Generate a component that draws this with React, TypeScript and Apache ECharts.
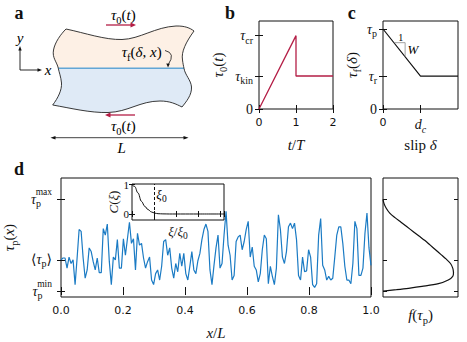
import React, { useEffect, useRef } from 'react';
import * as echarts from 'echarts';

const SERIF = '"Liberation Serif", "DejaVu Serif", serif';
const SANS = '"DejaVu Sans", Verdana, sans-serif';
const RED = '#b41e46';
const BLUE = '#1b7bc4';
const INK = '#111';

// ---- panel b: loading protocol tau0(t)
const loadTime = [0, 1, 1, 2];
const loadStress = [0, 1, 0.45, 0.45];
const bTicks = [0, 0.45, 1];

// ---- panel c: slip-weakening friction law
const slipValues = [0, 1, 2];
const frictionValues = [1, 0.41, 0.41];
const cTicks = [0, 0.41, 1];
const slopeX = [0.29, 0.59, 0.59];
const slopeY = [0.829, 0.829, 0.652];

// ---- panel d: random peak strength (tau_min = 0, tau_max = 100)
const dTicks = [0, 34, 100];
const tauP = [
  34, 36, 36, 25, 37, 30, 34, 7, 36, 67,
  65, 36, 14, 23, 47, 43, 32, 23, 36, 20,
  20, 68, 61, 73, 32, 7, 37, 34, 56, 25,
  25, 57, 39, 57, 75, 52, 57, 23, 63, 50,
  52, 36, 25, 32, 37, 12, 7, 19, 23, 12,
  27, 54, 56, 39, 47, 25, 14, 30, 21, 41,
  27, 41, 19, 12, 27, 43, 23, 19, 33, 41,
  56, 67, 73, 65, 23, 7, 28, 47, 61, 25,
  30, 61, 87, 50, 39, 12, 17, 54, 59, 61,
  45, 54, 67, 76, 37, 48, 27, 23, 10, 19,
  45, 61, 57, 8, 27, 16, 7, 25, 83, 67,
  37, 30, 43, 70, 74, 68, 74, 56, 17, 12,
  37, 21, 22, 45, 37, 7, 4, 8, 61, 79,
  28, 23, 12, 16, 12, 14, 37, 61, 70, 70,
  52, 27, 12, 12, 8, 30, 76, 68, 17, 17,
  25, 63, 85, 47, 28,
];

// distribution f(tau_p)
const distTau = [0, 0.5, 1.5, 3, 5, 8, 12, 16, 20, 25, 30, 35, 40, 45, 50, 55, 60, 65, 70, 75, 80, 85, 90, 95, 100];
const distF = [0, 0.06, 0.18, 0.34, 0.52, 0.74, 0.87, 0.93, 0.94, 0.93, 0.9, 0.84, 0.77, 0.7, 0.63, 0.56, 0.48, 0.4, 0.32, 0.24, 0.16, 0.09, 0.045, 0.015, 0];

// inset: correlation C(xi)
const xiValues = [0, 0.12, 0.27, 0.43, 0.58, 0.73, 0.88, 1.03, 1.18, 1.4, 1.7, 2.2, 3.0, 4.17];
const corrValues = [1, 0.94, 0.72, 0.43, 0.26, 0.15, 0.07, 0.03, 0.01, 0.004, 0, 0, 0, 0];
const xiZero = 1;
const insetTicks = [0, 1];

// ---- panel a shapes
const TOP_REGION =
  'M66,29 C85,33 105,40 122,39.5 C140,39 155,27 176,26 C185,25.8 190,28 194,31 ' +
  'C186,42 181,52 182.5,60 C183,64 183.5,66 184,68.3 L58.3,68.3 ' +
  'C57,62 52,58 53.5,50 C55,42 61,34 66,29 Z';
const BOTTOM_REGION =
  'M58.3,68.3 L184,68.3 C185,75 191,80 191.5,87 C192,95 186,102 182,107 ' +
  'C176,104 170,101 160,101 C140,101 128,112 108,112.5 C90,113 70,108 52.7,105 ' +
  'C58,98 62,90 61.5,83 C61,77 59,72 58.3,68.3 Z';
const OUTLINE =
  'M66,29 C85,33 105,40 122,39.5 C140,39 155,27 176,26 C185,25.8 190,28 194,31 ' +
  'C186,42 181,52 182.5,60 C183,64 183.5,66 184,68.3 C185,75 191,80 191.5,87 C192,95 186,102 182,107 ' +
  'C176,104 170,101 160,101 C140,101 128,112 108,112.5 C90,113 70,108 52.7,105 ' +
  'C58,98 62,90 61.5,83 C61,77 59,72 58.3,68.3 C57,62 52,58 53.5,50 C55,42 61,34 66,29 Z';

echarts.graphic.registerShape('topRegion', echarts.graphic.extendPath(TOP_REGION, {}));
echarts.graphic.registerShape('bottomRegion', echarts.graphic.extendPath(BOTTOM_REGION, {}));
echarts.graphic.registerShape('outlineRegion', echarts.graphic.extendPath(OUTLINE, {}));

const RICH: any = {
  t: { fontFamily: SERIF, fontStyle: 'italic', fontSize: 14, lineHeight: 15, color: INK },
  r: { fontFamily: SERIF, fontSize: 14, lineHeight: 15, color: INK },
  s: { fontFamily: SERIF, fontSize: 10, height: 6, lineHeight: 6, verticalAlign: 'bottom', color: INK },
  si: { fontFamily: SERIF, fontStyle: 'italic', fontSize: 10, height: 6, lineHeight: 6, verticalAlign: 'bottom', color: INK },
  n: { fontFamily: SANS, fontSize: 11, color: INK },
  N: { fontFamily: SERIF, fontStyle: 'italic', fontSize: 15, lineHeight: 17, color: INK },
  M: { fontFamily: SERIF, fontSize: 15, lineHeight: 17, color: INK },
  S: { fontFamily: SERIF, fontSize: 10.5, height: 6, lineHeight: 6, verticalAlign: 'bottom', color: INK },
  n2: { fontFamily: SERIF, fontStyle: 'italic', fontSize: 13, lineHeight: 14, color: INK },
  m2: { fontFamily: SERIF, fontSize: 13, lineHeight: 14, color: INK },
  s2: { fontFamily: SERIF, fontSize: 9.5, height: 5, lineHeight: 5, verticalAlign: 'bottom', color: INK },
  w: { fontFamily: SERIF, fontSize: 10, color: '#333' },
  u: { fontFamily: SERIF, fontSize: 9.5, height: 4, lineHeight: 4, color: INK },
  T: { fontFamily: SERIF, fontStyle: 'italic', fontSize: 14, height: 10, lineHeight: 10, color: INK },
  A: { fontFamily: SERIF, fontSize: 14, height: 10, lineHeight: 10, color: INK },
  P: { fontFamily: SERIF, fontSize: 10, height: 2, lineHeight: 2, verticalAlign: 'bottom', color: INK },
  g1: { fontSize: 9.5, width: 11, height: 2 },
  g2: { fontSize: 9.5, width: 9.5, height: 2 },
};

const tickIn = (len = 4, extra: any = {}) => ({ show: true, inside: true, length: len, lineStyle: { color: INK, width: 1 }, ...extra });
const noLine = { show: false };
const noSplit = { show: false };
const sansLabel = { fontFamily: SANS, fontSize: 11, color: INK, margin: 8 };
const nameStyle = { rich: RICH, fontFamily: SERIF, fontSize: 15, color: INK };
const mirror = (gridIndex: number, position: string, extra: any = {}) => ({
  gridIndex, type: 'value', position, axisLine: noLine, splitLine: noSplit, axisLabel: { show: false }, ...extra,
});

const frame = { show: true, borderColor: INK, borderWidth: 1, backgroundColor: 'transparent', containLabel: false, outerBoundsMode: 'none' };

const arrowHead = (pts: number[][], fill: string) => ({ type: 'polygon', silent: true, z: 10, shape: { points: pts }, style: { fill, stroke: 'none' } });
const seg = (x1: number, y1: number, x2: number, y2: number, stroke: string, w: number) => ({
  type: 'line', silent: true, z: 10, shape: { x1, y1, x2, y2 }, style: { stroke, lineWidth: w },
});
const label = (text: string, x: number, y: number) => ({
  type: 'text', silent: true, z: 10, style: { text, rich: RICH, x, y, align: 'center', verticalAlign: 'middle' },
});
const letter = (text: string, x: number, y: number) => ({
  type: 'text', silent: true, z: 10,
  style: { text, x, y, align: 'center', verticalAlign: 'middle', fontFamily: SERIF, fontWeight: 'bold', fontSize: 18, fill: INK },
});

function buildOption(): any {
  const n = tauP.length;
  return {
    animation: false,
    backgroundColor: '#fff',
    grid: [
      { ...frame, left: 259, top: 21, width: 74, height: 88 },
      { ...frame, left: 383, top: 21, width: 75, height: 88 },
      { ...frame, left: 61, top: 178, width: 310, height: 119 },
      { ...frame, left: 383, top: 178, width: 75, height: 119 },
      { ...frame, left: 132, top: 184, width: 92, height: 36, backgroundColor: '#fff', z: 3 },
    ],
    xAxis: [
      {
        gridIndex: 0, type: 'value', min: 0, max: 2, interval: 1, axisLine: noLine, axisTick: tickIn(), splitLine: noSplit,
        axisLabel: sansLabel, name: '{N|t}{M|/}{N|T}', nameLocation: 'middle', nameGap: 27, nameTextStyle: nameStyle,
      },
      mirror(0, 'top', { min: 0, max: 2, interval: 1, axisTick: tickIn() }),
      {
        gridIndex: 1, type: 'value', min: 0, max: 2, axisLine: noLine, splitLine: noSplit,
        axisTick: tickIn(4, { customValues: [0, 1] }),
        axisLabel: { ...sansLabel, customValues: [0, 1], rich: RICH, formatter: (v: number) => (v === 0 ? '{n|0}' : '{t|d}{si|c}') },
        name: '{M|slip }{N|δ}', nameLocation: 'middle', nameGap: 27, nameTextStyle: nameStyle,
      },
      mirror(1, 'top', { min: 0, max: 2, axisTick: tickIn(4, { customValues: [0, 1] }) }),
      {
        gridIndex: 2, type: 'value', min: 0, max: 1, interval: 0.2, axisLine: noLine, axisTick: tickIn(), splitLine: noSplit,
        axisLabel: { ...sansLabel, formatter: (v: number) => v.toFixed(1) },
        name: '{N|x}{M|/}{N|L}', nameLocation: 'middle', nameGap: 27, nameTextStyle: nameStyle,
      },
      mirror(2, 'top', { min: 0, max: 1, interval: 0.2, axisTick: tickIn() }),
      {
        gridIndex: 3, type: 'value', min: 0, max: 1, axisLine: noLine, axisTick: { show: false }, splitLine: noSplit,
        axisLabel: { show: false },
        name: '{N|f}{M|(}{N|τ}{S|p}{M|)}', nameLocation: 'middle', nameGap: 9, nameTextStyle: nameStyle,
      },
      {
        gridIndex: 4, type: 'value', min: 0, max: 4.17, interval: 1, axisLine: noLine, axisTick: tickIn(3), splitLine: noSplit,
        axisLabel: { show: false }, z: 5,
        name: '{n2|ξ}{m2|/}{n2|ξ}{s2|0}', nameLocation: 'middle', nameGap: 4, nameTextStyle: nameStyle,
      },
      mirror(4, 'top', { min: 0, max: 4.17, interval: 1, axisTick: tickIn(3), z: 5 }),
    ],
    yAxis: [
      {
        gridIndex: 0, type: 'value', min: 0, max: 1.2, axisLine: noLine, splitLine: noSplit,
        axisTick: tickIn(4, { customValues: bTicks }),
        axisLabel: {
          customValues: bTicks, rich: RICH, margin: 6,
          formatter: (v: number) => (v === 0 ? '{r|0}' : v === bTicks[2] ? '{t|τ}{s|cr}' : '{t|τ}{s|kin}'),
        },
        name: '{N|τ}{S|0}{M|(}{N|t}{M|)}', nameLocation: 'middle', nameRotate: 90, nameGap: 33, nameTextStyle: nameStyle,
      },
      mirror(0, 'right', { min: 0, max: 1.2, axisTick: tickIn(4, { customValues: bTicks }) }),
      {
        gridIndex: 1, type: 'value', min: 0, max: 1.1, axisLine: noLine, splitLine: noSplit,
        axisTick: tickIn(4, { customValues: cTicks }),
        axisLabel: {
          customValues: cTicks, rich: RICH, margin: 6,
          formatter: (v: number) => (v === 0 ? '{r|0}' : v === cTicks[2] ? '{t|τ}{s|p}' : '{t|τ}{s|r}'),
        },
        name: '{N|τ}{S|f}{M|(}{N|δ}{M|)}', nameLocation: 'middle', nameRotate: 90, nameGap: 19, nameTextStyle: nameStyle,
      },
      mirror(1, 'right', { min: 0, max: 1.1, axisTick: tickIn(4, { customValues: cTicks }) }),
      {
        gridIndex: 2, type: 'value', min: -6.5, max: 123.2, axisLine: noLine, splitLine: noSplit,
        axisTick: tickIn(4, { customValues: dTicks }),
        axisLabel: {
          customValues: dTicks, rich: RICH, margin: 9, padding: [0, 0, 4, 0],
          formatter: (v: number) =>
            v === dTicks[2] ? '{u|max}\n{T|τ}{P|p}{g1| }' : v === dTicks[1] ? '{u| }\n{A|⟨}{T|τ}{P|p}{A|⟩}' : '{u|min}\n{T|τ}{P|p}{g2| }',
        },
        name: '{N|τ}{S|p}{M|(}{N|x}{M|)}', nameLocation: 'middle', nameRotate: 90, nameGap: 41, nameTextStyle: nameStyle,
      },
      mirror(2, 'right', { min: -6.5, max: 123.2, axisTick: tickIn(4, { customValues: dTicks }) }),
      mirror(3, 'left', { min: -6.5, max: 123.2, axisTick: tickIn(4, { customValues: dTicks }) }),
      mirror(3, 'right', { min: -6.5, max: 123.2, axisTick: tickIn(4, { customValues: dTicks }) }),
      {
        gridIndex: 4, type: 'value', min: -0.205, max: 1.024, axisLine: noLine, splitLine: noSplit, z: 5,
        axisTick: tickIn(3, { customValues: insetTicks }),
        axisLabel: {
          customValues: insetTicks, showMinLabel: true, showMaxLabel: true,
          fontFamily: SERIF, fontSize: 11, color: INK, margin: 3, formatter: (v: number) => String(v),
        },
        name: '{n2|C}{m2|(}{n2|ξ}{m2|)}', nameLocation: 'middle', nameRotate: 90, nameGap: 5, nameTextStyle: nameStyle,
      },
      mirror(4, 'right', { min: -0.205, max: 1.024, axisTick: tickIn(3, { customValues: insetTicks }), z: 5 }),
    ],
    series: [
      {
        type: 'line', xAxisIndex: 0, yAxisIndex: 0, symbol: 'none', silent: true,
        data: loadTime.map((t, i) => [t, loadStress[i]]), lineStyle: { color: RED, width: 1.3 },
      },
      {
        type: 'line', xAxisIndex: 2, yAxisIndex: 2, symbol: 'none', silent: true,
        data: slipValues.map((s, i) => [s, frictionValues[i]]), lineStyle: { color: INK, width: 1.2 },
      },
      {
        type: 'line', xAxisIndex: 2, yAxisIndex: 2, symbol: 'none', silent: true,
        data: slopeX.map((s, i) => [s, slopeY[i]]), lineStyle: { color: '#8a8a8a', width: 0.8 },
      },
      {
        type: 'line', xAxisIndex: 4, yAxisIndex: 4, symbol: 'none', silent: true, z: 2,
        data: tauP.map((v, i) => [i / (n - 1), v]), lineStyle: { color: BLUE, width: 1.2 },
      },
      {
        type: 'line', xAxisIndex: 6, yAxisIndex: 6, symbol: 'none', silent: true, smooth: 0.3,
        data: distF.map((f, i) => [f, distTau[i]]), lineStyle: { color: INK, width: 1.2 },
      },
      {
        type: 'line', xAxisIndex: 7, yAxisIndex: 8, symbol: 'none', silent: true, z: 5, smooth: 0.4, smoothMonotone: 'x',
        data: xiValues.map((x, i) => [x, corrValues[i]]), lineStyle: { color: INK, width: 1 },
        markLine: {
          silent: true, symbol: ['none', 'none'], label: { show: false },
          lineStyle: { color: INK, type: [3, 2], width: 1 }, data: [{ xAxis: xiZero }],
        },
      },
    ],
    graphic: {
      elements: [
        { type: 'topRegion', silent: true, x: 0, y: 0, style: { fill: '#fdf0e5', stroke: 'none' } },
        { type: 'bottomRegion', silent: true, x: 0, y: 0, style: { fill: '#dfeaf6', stroke: 'none' } },
        seg(58.3, 68.3, 184, 68.3, '#62a6d6', 1.5),
        { type: 'outlineRegion', silent: true, x: 0, y: 0, z: 10, style: { fill: 'none', stroke: '#222', lineWidth: 0.9 } },
        seg(106, 25, 132, 25, RED, 1.3),
        arrowHead([[136, 25], [130.5, 22.6], [130.5, 27.4]], RED),
        seg(109, 115, 135, 115, RED, 1.3),
        arrowHead([[105, 115], [110.5, 112.6], [110.5, 117.4]], RED),
        label('{N|τ}{S|0}{M|(}{N|t}{M|)}', 123.3, 14.5),
        label('{N|τ}{S|0}{M|(}{N|t}{M|)}', 123.3, 126),
        seg(53, 137.7, 186, 137.7, INK, 0.8),
        arrowHead([[50.5, 137.7], [55.5, 135.9], [55.5, 139.5]], INK),
        arrowHead([[188.5, 137.7], [183.5, 135.9], [183.5, 139.5]], INK),
        label('{N|L}', 121.7, 148),
        seg(20, 70, 20, 49, INK, 0.9),
        arrowHead([[20, 46], [18.3, 50.5], [21.7, 50.5]], INK),
        seg(20, 70, 39, 70, INK, 0.9),
        arrowHead([[42, 70], [37.5, 68.3], [37.5, 71.7]], INK),
        label('{N|y}', 20, 38),
        label('{N|x}', 48, 70),
        label('{N|τ}{S|f}{M|(}{N|δ}{M|, }{N|x}{M|)}', 141.7, 51.5),
        {
          type: 'bezierCurve', silent: true, z: 10,
          shape: { x1: 165, y1: 50.5, cpx1: 176, cpy1: 53, x2: 168.3, y2: 64.5 },
          style: { stroke: INK, lineWidth: 0.8, fill: 'none' },
        },
        arrowHead([[168, 67.5], [166.3, 63.5], [169.8, 63.8]], INK),
        label('{n2|ξ}{s2|0}', 161.5, 194),
        label('{w|1}', 400.7, 37),
        label('{n2|W}', 413, 49.5),
        letter('a', 19, 13),
        letter('b', 230, 13),
        letter('c', 351.7, 13),
        letter('d', 19, 169),
      ],
    },
  };
}

export default function App() {
  const ref = useRef<HTMLDivElement>(null);
  useEffect(() => {
    document.body.style.margin = '0';
    const chart = echarts.init(ref.current as HTMLDivElement, undefined, { renderer: 'svg', width: 467, height: 342 });
    chart.setOption(buildOption());
    return () => chart.dispose();
  }, []);
  return <div ref={ref} style={{ width: 467, height: 342 }} />;
}
